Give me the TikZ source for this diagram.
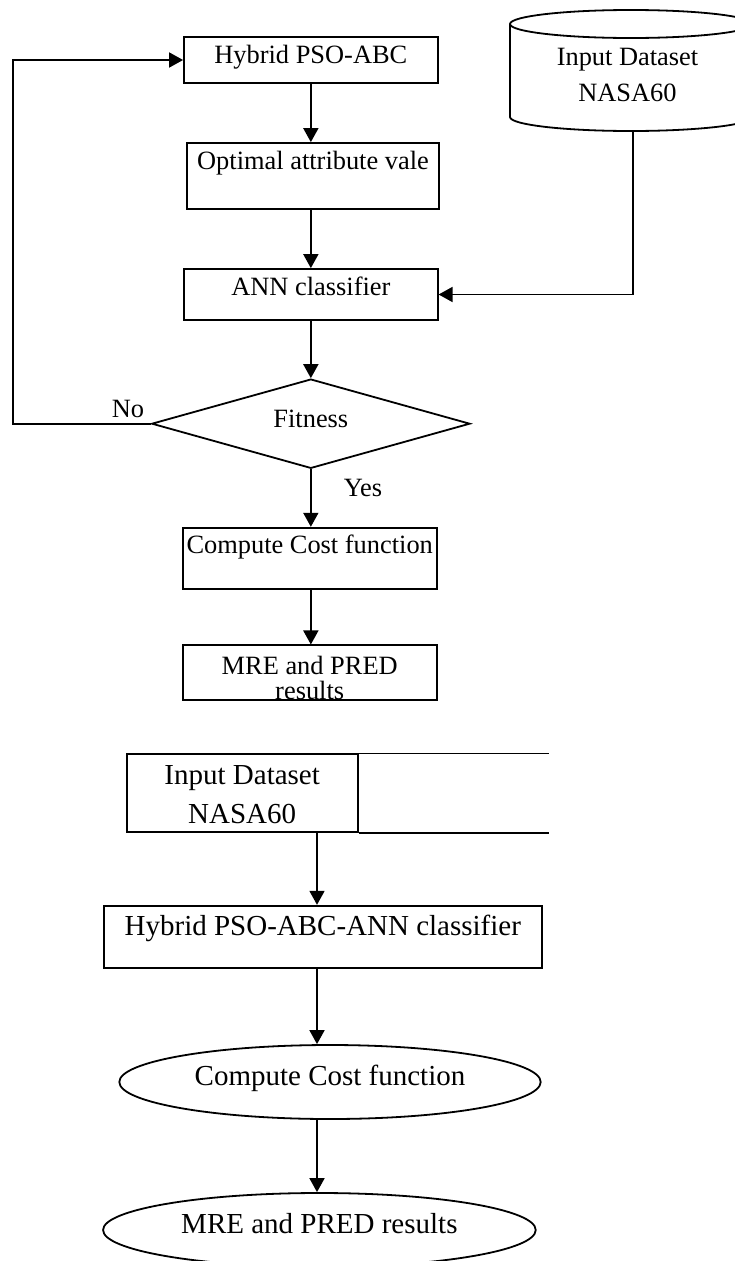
\documentclass[tikz,border=0pt]{standalone}
\usepackage{fontspec}
\setmainfont{Liberation Serif}
\usetikzlibrary{arrows.meta,shapes.geometric}
\newcommand\upperfont{\fontsize{26.4}{30}\selectfont}
\newcommand\lowerfont{\fontsize{29}{34}\selectfont}
\begin{document}
\begin{tikzpicture}[x=1pt,y=1pt,
  ln/.style={line width=1.8pt},
  arr/.style={ln,-{Triangle[length=14pt,width=15pt]}},
  box/.style={draw,ln,rectangle,inner sep=0pt},
  upbox/.style={box,font=\upperfont,text height=26pt},
  oval/.style={draw,ln,ellipse,inner sep=0pt,font=\lowerfont,minimum height=74pt,text height=20pt}]
\useasboundingbox (0,0) rectangle (734,-1261);

% ---- iterative PSO-ABC / ANN loop ----
\node[upbox,minimum width=253.7pt,minimum height=46pt,text depth=20pt] (hyb) at (310.85,-60) {Hybrid PSO-ABC};
\node[upbox,minimum width=252pt,minimum height=66pt,text depth=40pt] (opt) at (313,-176) {Optimal attribute vale};
\node[upbox,minimum width=253.7pt,minimum height=51pt,text depth=25pt] (ann) at (310.85,-294.5) {ANN classifier};
\node[draw,ln,diamond,aspect=3.56,inner sep=0pt,minimum width=318.3pt,minimum height=89.3pt,
      font=\upperfont,text height=18pt,text depth=11pt] (fit) at (310.85,-423.7) {Fitness};
\node[upbox,minimum width=254pt,minimum height=61.6pt,text depth=35.6pt] (cost) at (309.7,-558.5) {Compute Cost function};
\node[box,font=\fontsize{26.4}{25}\selectfont,align=center,minimum width=254pt,minimum height=53pt] (mre) at (309.7,-672.5)
  {\rule{0pt}{29pt}MRE and PRED\\results};

\node[font=\upperfont,anchor=base] (no) at (128,-417.3) {No};
\node[font=\upperfont,anchor=base] (yes) at (363,-496) {Yes};

% data store drawn as a cylinder
\draw[ln] (510,-24) -- (510,-117) arc[start angle=180,end angle=360,x radius=121pt,y radius=14pt] -- (752,-24);
\draw[ln] (631,-24) ellipse [x radius=121pt,y radius=14pt];
\node[font=\fontsize{26.4}{35.7}\selectfont,align=center] (cyl) at (627.5,-75) {Input Dataset\\NASA60};
\coordinate (cylb) at (633,-131);

\draw[arr] (hyb.south) -- (hyb.south |- opt.north);
\draw[arr] (ann.north |- opt.south) -- (ann.north);
\draw[arr] (ann.south) -- (fit.north);
\draw[arr] (fit.south) -- (fit.south |- cost.north);
\draw[arr] (fit.south |- cost.south) -- (fit.south |- mre.north);
\draw[arr] (cylb) |- (ann.east);
\draw[arr] (fit.west) -- ++(-137.7,0) |- (hyb.west);

% ---- combined classifier pipeline ----
\node[box,font=\fontsize{29}{39}\selectfont,align=center,minimum width=231pt,minimum height=78pt] (in2) at (242.2,-793.3)
  {\rule{0pt}{29.7pt}Input Dataset\\NASA60\rule[-9.3pt]{0pt}{9.3pt}};
\draw[ln] (in2.north east) -- ++(190.3,0);
\draw[ln] (in2.south east) -- ++(190.3,0);

\node[box,font=\lowerfont,minimum width=437.7pt,minimum height=62.6pt,text height=29.3pt,text depth=33.3pt] (hpa) at (322.85,-937)
  {Hybrid PSO-ABC-ANN classifier};
\node[oval,minimum width=421.4pt,text depth=14pt] (cost2) at (330,-1082) {Compute Cost function};
\node[oval,minimum width=432.7pt,text depth=13.4pt] (mre2) at (319.4,-1230) {MRE and PRED results};

\coordinate (ax) at (317,0);
\draw[arr] (in2.south -| ax) -- (hpa.north -| ax);
\draw[arr] (hpa.south -| ax) -- (cost2.north -| ax);
\draw[arr] (cost2.south -| ax) -- (mre2.north -| ax);
\end{tikzpicture}
\end{document}
